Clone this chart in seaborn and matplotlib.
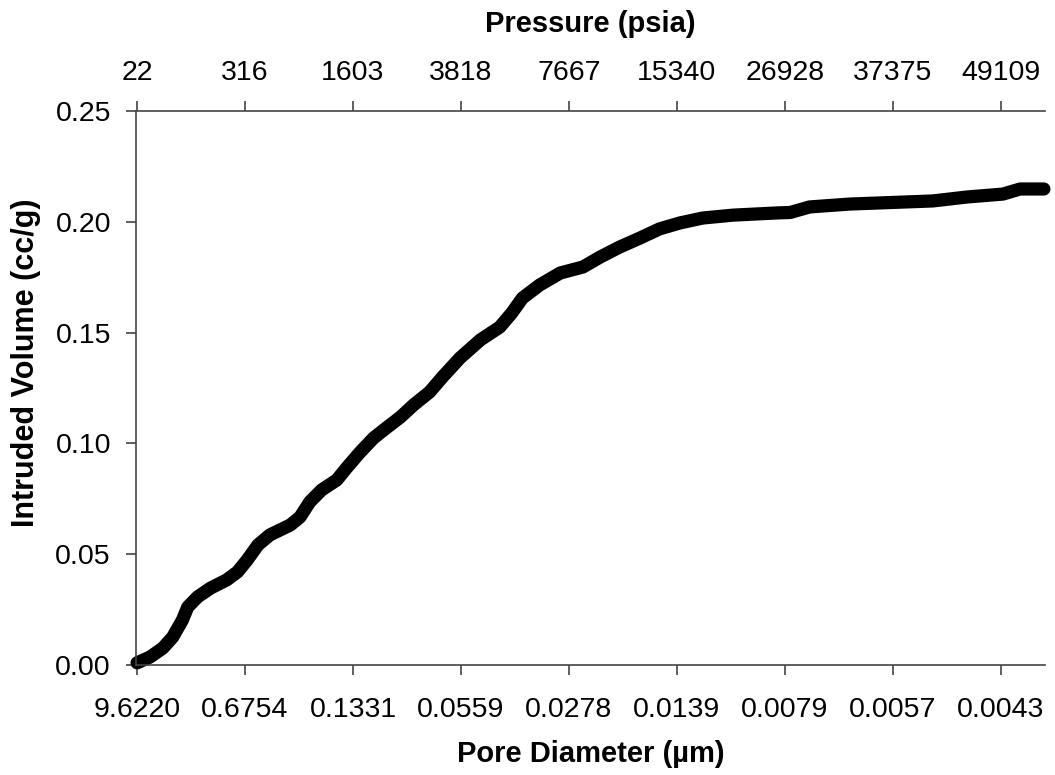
import numpy as np
import pandas as pd
import matplotlib
matplotlib.use("Agg")
import matplotlib.pyplot as plt
import seaborn as sns

# tick labels (equally spaced categories on the x axis)
pore_labels = ['9.6220', '0.6754', '0.1331', '0.0559', '0.0278', '0.0139', '0.0079', '0.0057', '0.0043']
pressure_labels = ['22', '316', '1603', '3818', '7667', '15340', '26928', '37375', '49109']

# curve: x in tick units, y in cc/g
pos = [0.00, 0.12, 0.24, 0.33, 0.42, 0.47, 0.56, 0.68, 0.83, 0.93, 1.02, 1.12,
       1.23, 1.42, 1.51, 1.60, 1.71, 1.85, 1.94, 2.06, 2.19, 2.32, 2.44, 2.56,
       2.71, 2.83, 2.99, 3.18, 3.36, 3.47, 3.57, 3.73, 3.92, 4.13, 4.29, 4.47,
       4.66, 4.84, 5.03, 5.24, 5.52, 5.93, 6.05, 6.23, 6.60, 7.37, 7.69, 8.02,
       8.18, 8.40]
volume = [0.0010, 0.0036, 0.0077, 0.0126, 0.0203, 0.0262, 0.0307, 0.0347, 0.0384, 0.0420, 0.0474, 0.0542,
          0.0587, 0.0632, 0.0668, 0.0736, 0.0790, 0.0835, 0.0889, 0.0957, 0.1024, 0.1074, 0.1119, 0.1173,
          0.1232, 0.1300, 0.1385, 0.1467, 0.1525, 0.1588, 0.1656, 0.1715, 0.1769, 0.1796, 0.1841, 0.1886,
          0.1927, 0.1968, 0.1995, 0.2017, 0.2030, 0.2040, 0.2042, 0.2067, 0.2080, 0.2094, 0.2112, 0.2125,
          0.2148, 0.2148]

df = pd.DataFrame({'pos': pos, 'volume': volume})

sns.set_style("white")
plt.rcParams['font.family'] = ['Liberation Sans', 'DejaVu Sans']
plt.rcParams['text.color'] = 'black'
plt.rcParams['axes.labelcolor'] = 'black'

fig = plt.figure(figsize=(10.55, 7.75), dpi=100)
ax = fig.add_axes([0.1289, 0.1419, 0.8616, 0.7149])

sns.lineplot(data=df, x='pos', y='volume', ax=ax, color='black', linewidth=9.5,
             solid_capstyle='round', solid_joinstyle='round', clip_on=False)

ax.set_xlim(-0.01, 8.41)
ax.set_ylim(0, 0.25)
ax.set_xticks(range(len(pore_labels)))
ax.set_xticklabels(pore_labels)
yt = np.arange(0, 0.2501, 0.05)
ax.set_yticks(yt)
ax.set_yticklabels([f'{v:.2f}' for v in yt])

ax.spines['right'].set_visible(False)
for side in ['left', 'bottom', 'top']:
    ax.spines[side].set_color('#444444')
    ax.spines[side].set_linewidth(1.2)

tick_fs = 20.5
lab_fs = 21
ax.tick_params(axis='x', direction='out', length=7, width=1.2, color='#444444',
               labelsize=tick_fs, pad=16, bottom=True, labelcolor='black')
ax.tick_params(axis='y', direction='out', length=7, width=1.2, color='#444444',
               labelsize=tick_fs, pad=11, left=True, labelcolor='black')

sec = ax.secondary_xaxis('top')
sec.set_xticks(range(len(pressure_labels)))
sec.set_xticklabels(pressure_labels)
sec.tick_params(direction='out', length=7, width=1.2, color='#444444', labelsize=tick_fs,
                pad=11, labelcolor='black')
sec.spines['top'].set_visible(False)
sec.set_xlabel('Pressure (psia)', fontsize=lab_fs, fontweight='bold', labelpad=20, color='black')

ax.set_xlabel('Pore Diameter (µm)', fontsize=lab_fs, fontweight='bold', labelpad=12, color='black')
ax.set_ylabel('Intruded Volume (cc/g)', fontsize=22, fontweight='bold', labelpad=10,
              color='black', y=0.545)

fig.savefig('out.png', dpi=100)
